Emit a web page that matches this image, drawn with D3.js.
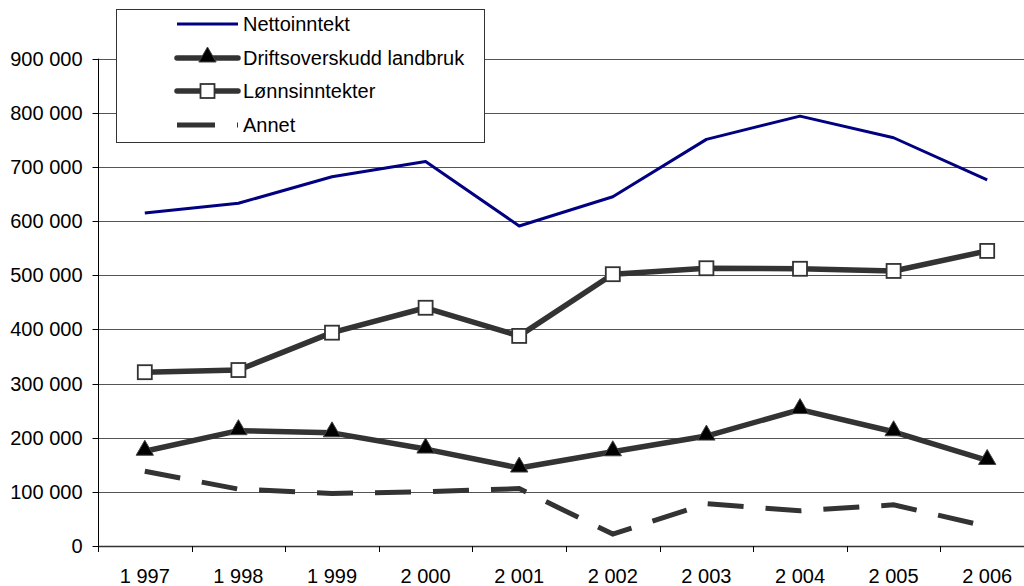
<!DOCTYPE html>
<html>
<head>
<meta charset="utf-8">
<script src="https://cdn.jsdelivr.net/npm/d3@7/dist/d3.min.js"></script>
<style>
  html, body { margin: 0; padding: 0; background: #fff; }
  svg { display: block; font-family: "Liberation Sans", Arial, sans-serif; }
</style>
</head>
<body>
<svg id="chart" width="1024" height="586"></svg>
<script>
const years = ["1 997", "1 998", "1 999", "2 000", "2 001", "2 002", "2 003", "2 004", "2 005", "2 006"];
const nettoinntekt = [615000, 633000, 682000, 710000, 591000, 645000, 751000, 794000, 754000, 676000];
const driftsoverskudd = [175000, 213000, 209000, 179000, 144000, 174000, 203000, 252000, 211000, 158000];
const lonnsinntekter = [321000, 325000, 394000, 440000, 388000, 502000, 513000, 512000, 508000, 545000];
const annet = [138000, 105000, 97000, 100000, 106000, 22000, 78000, 65000, 76000, 36000];
const yTicks = [0, 100000, 200000, 300000, 400000, 500000, 600000, 700000, 800000, 900000];
const seriesNames = ["Nettoinntekt", "Driftsoverskudd landbruk", "Lønnsinntekter", "Annet"];

(function () {
const svg = d3.select("#chart");
const pL = 98, pR = 1034, pT = 58.7, pB = 546;
const FS = 20;

const x = d3.scaleBand().domain(years).range([pL, pR]);
const y = d3.scaleLinear().domain([0, 900000]).range([pB, pT]);
const fmt = v => v === 0 ? "0" : d3.format(",")(v).replace(/,/g, " ");

// gridlines
svg.append("g").selectAll("line").data(yTicks.filter(d => d > 0)).join("line")
  .attr("x1", pL).attr("x2", pR)
  .attr("y1", d => Math.round(y(d)) + 0.5).attr("y2", d => Math.round(y(d)) + 0.5)
  .attr("stroke", "#555").attr("stroke-width", 1);

// y axis
const yAxis = svg.append("g").attr("transform", `translate(${pL + 0.5},0)`)
  .call(d3.axisLeft(y).tickValues(yTicks).tickFormat(fmt).tickSize(6).tickPadding(10));
yAxis.select(".domain").attr("stroke", "#000").attr("d", `M0,${pB}V${pT}`);
yAxis.selectAll(".tick line").attr("stroke", "#000");
yAxis.selectAll(".tick text").attr("font-size", FS).attr("fill", "#000")
  .attr("font-family", "'Liberation Sans', Arial, sans-serif");
yAxis.selectAll(".tick").attr("transform", d => `translate(0,${Math.round(y(d)) + 0.5})`);

// x axis
const xg = svg.append("g");
xg.append("line").attr("x1", pL).attr("x2", pR)
  .attr("y1", Math.round(pB) + 0.5).attr("y2", Math.round(pB) + 0.5)
  .attr("stroke", "#333").attr("stroke-width", 1.5);
xg.selectAll("line.tk").data(years).join("line").attr("class", "tk")
  .attr("x1", d => Math.round(x(d)) + 0.5).attr("x2", d => Math.round(x(d)) + 0.5)
  .attr("y1", pB).attr("y2", pB + 6).attr("stroke", "#000");
xg.selectAll("text").data(years).join("text")
  .attr("x", d => x(d) + x.bandwidth() / 2).attr("y", 583)
  .attr("text-anchor", "middle").attr("font-size", FS).attr("fill", "#000")
  .text(d => d);

const cx = (d, i) => x(years[i]) + x.bandwidth() / 2;
const line = d3.line().x(cx).y(d => y(d));

// Annet dashed
svg.append("path").datum(annet).attr("d", line)
  .attr("fill", "none").attr("stroke", "#333").attr("stroke-width", 5)
  .attr("stroke-dasharray", "36,22");

// Driftsoverskudd
svg.append("path").datum(driftsoverskudd).attr("d", line)
  .attr("fill", "none").attr("stroke", "#333").attr("stroke-width", 5.5)
  .attr("stroke-linejoin", "round");
const tri = d3.symbol().type(d3.symbolTriangle).size(130);
svg.append("g").selectAll("path").data(driftsoverskudd).join("path")
  .attr("d", tri)
  .attr("transform", (d, i) => `translate(${cx(d, i)},${y(d) - 1})`)
  .attr("fill", "#000").attr("stroke", "#444").attr("stroke-width", 1);

// Lønnsinntekter
svg.append("path").datum(lonnsinntekter).attr("d", line)
  .attr("fill", "none").attr("stroke", "#333").attr("stroke-width", 5.5)
  .attr("stroke-linejoin", "round");
svg.append("g").selectAll("rect").data(lonnsinntekter).join("rect")
  .attr("x", (d, i) => cx(d, i) - 7).attr("y", d => y(d) - 7)
  .attr("width", 14).attr("height", 14)
  .attr("fill", "#fff").attr("stroke", "#333").attr("stroke-width", 1.8);

// Nettoinntekt
svg.append("path").datum(nettoinntekt).attr("d", line)
  .attr("fill", "none").attr("stroke", "#000080").attr("stroke-width", 3)
  .attr("stroke-linejoin", "round");

// Legend
const lg = svg.append("g");
lg.append("rect").attr("x", 116.5).attr("y", 9.5).attr("width", 368).attr("height", 133)
  .attr("fill", "#fff").attr("stroke", "#333").attr("stroke-width", 1);
const rowsY = [24, 58, 91, 125];
const lx1 = 177, lx2 = 238, tx = 243;
lg.append("line").attr("x1", lx1).attr("x2", lx2).attr("y1", rowsY[0]).attr("y2", rowsY[0])
  .attr("stroke", "#000080").attr("stroke-width", 3);
lg.append("line").attr("x1", lx1).attr("x2", lx2).attr("y1", rowsY[1]).attr("y2", rowsY[1])
  .attr("stroke", "#333").attr("stroke-width", 5.5).attr("stroke-linecap", "round");
lg.append("path").attr("d", tri).attr("transform", `translate(${(lx1 + lx2) / 2},${rowsY[1] - 1})`)
  .attr("fill", "#000").attr("stroke", "#444").attr("stroke-width", 1);
lg.append("line").attr("x1", lx1).attr("x2", lx2).attr("y1", rowsY[2]).attr("y2", rowsY[2])
  .attr("stroke", "#333").attr("stroke-width", 5.5).attr("stroke-linecap", "round");
lg.append("rect").attr("x", (lx1 + lx2) / 2 - 7).attr("y", rowsY[2] - 7).attr("width", 14).attr("height", 14)
  .attr("fill", "#fff").attr("stroke", "#333").attr("stroke-width", 1.8);
lg.append("line").attr("x1", lx1).attr("x2", lx2).attr("y1", rowsY[3]).attr("y2", rowsY[3])
  .attr("stroke", "#333").attr("stroke-width", 5).attr("stroke-dasharray", "38,22");
lg.selectAll("text").data(seriesNames).join("text")
  .attr("x", tx).attr("y", (d, i) => rowsY[i] + 7)
  .attr("font-size", FS).attr("fill", "#000").text(d => d);
})();
</script>
</body>
</html>
